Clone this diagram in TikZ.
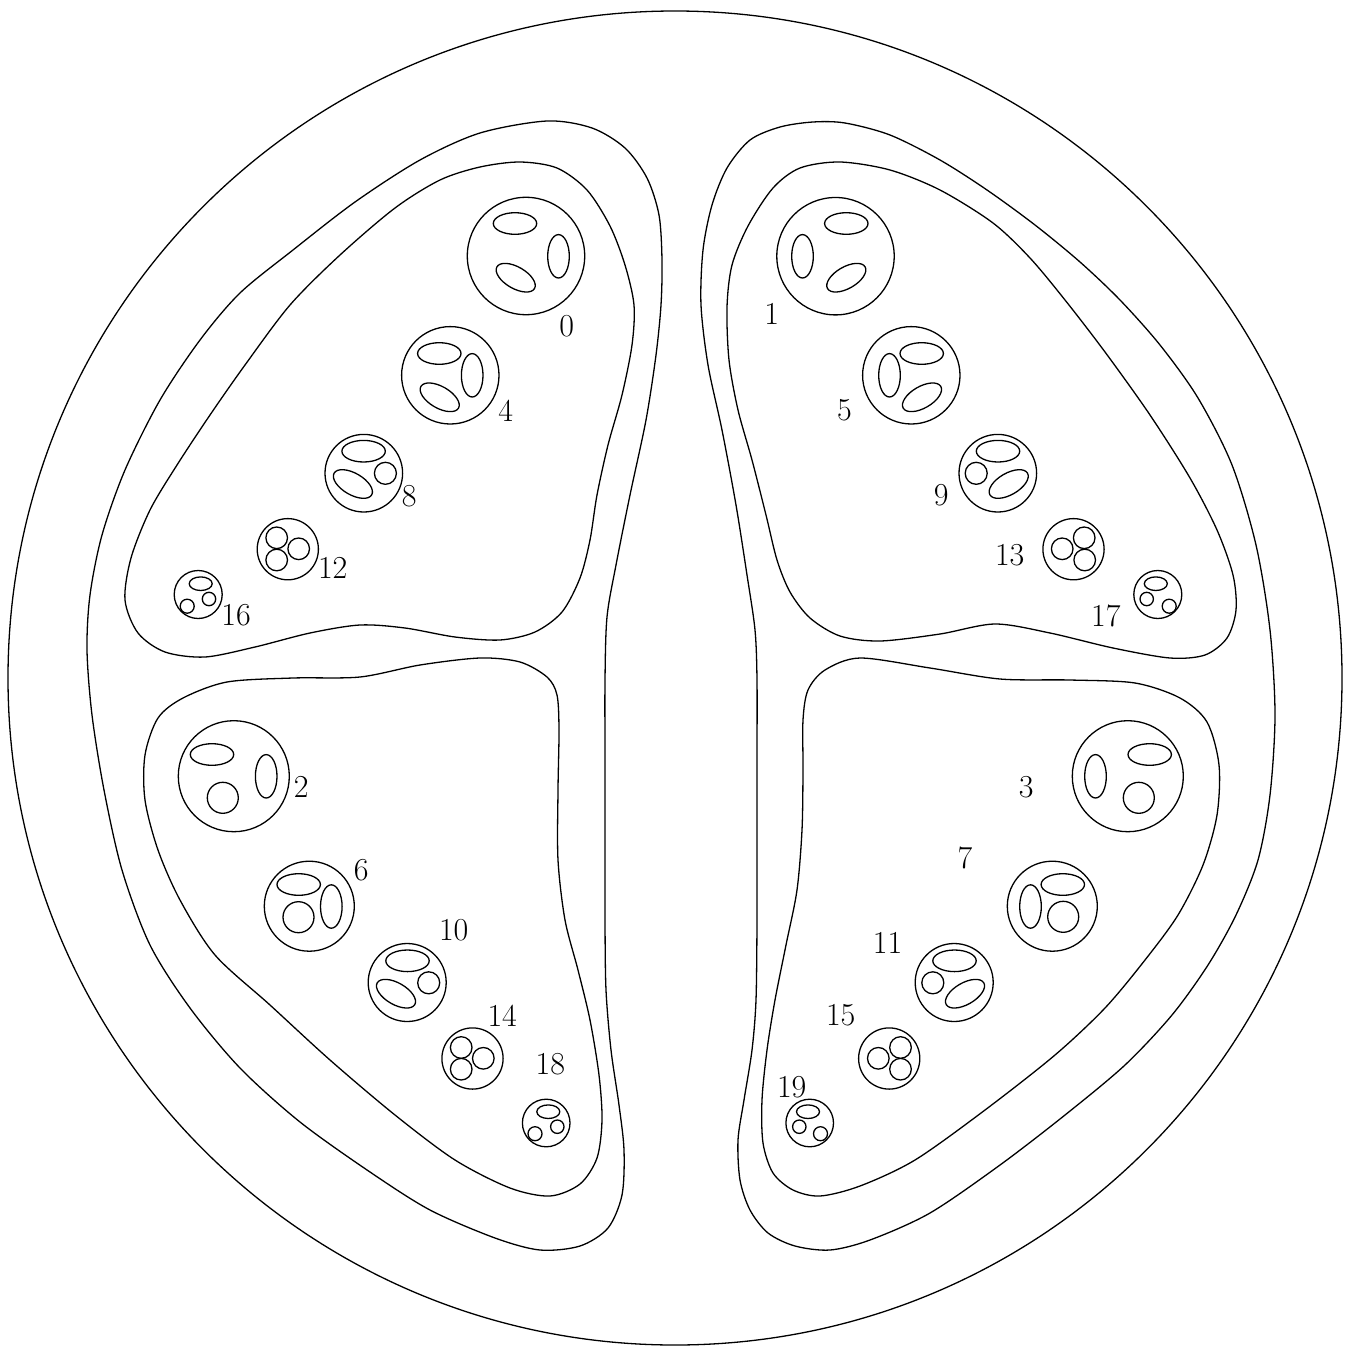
\documentclass[tikz,border=0pt]{standalone}
\begin{document}
\begin{tikzpicture}[x=1pt,y=-1pt,
  ln/.style={line width=1.3pt},
  lab/.style={font=\fontsize{32}{38}\selectfont, inner sep=0pt}]
\useasboundingbox (0,0) rectangle (1345,1346);
% outer circle
\draw[ln] (675,678) circle[radius=667pt];
% left outer blob
\draw[ln] plot[smooth cycle] coordinates {
(480,133) (547,121) (592,128) (625,148) (647,178) (659,215) (662,260) (661,305) (656,355) (646,420) (630,495) (616,565) (607,617) (605,680) (605,760) (605,840) (605,920) (606,990) (611,1050) (619,1105) (624,1150) (622,1195) (608,1228) (580,1246) (540,1250) (495,1238) (430,1210) (370,1172) (300,1122) (240,1068) (190,1008) (150,945) (122,870) (104,790) (92,715) (87,650) (90,595) (102,535) (125,470) (160,400) (200,340) (240,293) (293,250) (355,202) (420,160)};
% top-left inner blob
\draw[ln] plot[smooth cycle] coordinates {
(480,167) (520,162) (557,168) (587,190) (610,226) (625,265) (634,305) (632,345) (622,395) (608,445) (597,495) (590,540) (580,578) (562,612) (535,632) (500,640) (455,637) (405,628) (360,625) (310,633) (255,647) (205,657) (165,652) (138,633) (125,600) (131,558) (150,510) (177,465) (210,415) (245,365) (290,305) (340,255) (395,208) (440,180)};
% bottom-left inner blob
\draw[ln] plot[smooth cycle] coordinates {
(360,677) (420,665) (480,658) (520,662) (547,677) (557,695) (559,730) (558,790) (558,860) (565,920) (578,970) (590,1020) (599,1075) (602,1120) (597,1158) (580,1184) (550,1196) (510,1188) (455,1160) (395,1115) (330,1060) (270,1005) (215,955) (180,900) (158,850) (145,800) (145,755) (158,718) (183,698) (227,682) (293,678)};
% right outer blob
\draw[ln] plot[smooth cycle] coordinates {
(780,127) (813,122) (845,123) (890,135) (940,160) (987,190) (1035,225) (1080,262) (1120,300) (1160,345) (1198,398) (1232,465) (1256,545) (1270,630) (1275,715) (1270,795) (1258,860) (1236,915) (1208,965) (1172,1015) (1125,1065) (1065,1115) (1000,1165) (930,1213) (870,1240) (830,1250) (795,1246) (768,1233) (750,1210) (740,1180) (738,1140) (744,1100) (752,1050) (756,1000) (757,920) (757,840) (757,760) (757,680) (755,630) (747,575) (736,505) (722,430) (708,365) (701,305) (703,250) (712,205) (727,168) (750,140)};
% top-right inner blob
\draw[ln] plot[smooth cycle] coordinates {
(840,162) (890,170) (940,190) (993,223) (1030,258) (1065,300) (1105,352) (1150,415) (1190,478) (1217,530) (1233,575) (1236,610) (1227,638) (1205,655) (1170,658) (1113,648) (1050,633) (995,624) (940,634) (880,641) (840,636) (810,618) (790,592) (777,560) (766,515) (752,460) (738,410) (729,360) (727,307) (732,265) (748,226) (773,188) (800,168)};
% bottom-right inner blob
\draw[ln] plot[smooth cycle] coordinates {
(860,658) (930,668) (1000,679) (1070,680) (1135,683) (1180,698) (1207,722) (1219,765) (1217,815) (1203,865) (1178,915) (1145,960) (1105,1008) (1055,1055) (985,1110) (915,1160) (860,1186) (820,1196) (793,1190) (773,1173) (763,1143) (762,1100) (767,1050) (775,1000) (786,945) (797,890) (802,830) (803,770) (803,720) (808,690) (825,670)};

% ---- circle 0
\draw[ln] (526,256) circle[radius=58.7pt];
\draw[ln] (515,223.5) ellipse[x radius=21.7pt, y radius=10.8pt];
\draw[ln] (558.5,256.3) ellipse[x radius=10.8pt, y radius=21.7pt];
\draw[ln,rotate around={-30:(515.7,277.7)}] (515.7,277.7) ellipse[x radius=21.7pt, y radius=10.8pt];
% ---- circle 1
\draw[ln] (835.5,256.2) circle[radius=58.7pt];
\draw[ln] (846.3,223.5) ellipse[x radius=21.7pt, y radius=10.8pt];
\draw[ln] (802.5,256.3) ellipse[x radius=10.8pt, y radius=21.7pt];
\draw[ln,rotate around={30:(846.3,277.7)}] (846.3,277.7) ellipse[x radius=21.7pt, y radius=10.8pt];
% ---- circle 4
\draw[ln] (450.3,375.3) circle[radius=48.7pt];
\draw[ln] (439.3,353.5) ellipse[x radius=21.7pt, y radius=10.8pt];
\draw[ln] (472.2,375.3) ellipse[x radius=10.8pt, y radius=21.7pt];
\draw[ln,rotate around={-30:(439.7,397.3)}] (439.7,397.3) ellipse[x radius=21.7pt, y radius=10.8pt];
% ---- circle 5
\draw[ln] (911.3,375.3) circle[radius=48.7pt];
\draw[ln] (921.7,353.5) ellipse[x radius=21.7pt, y radius=10.8pt];
\draw[ln] (889.5,375.3) ellipse[x radius=10.8pt, y radius=21.7pt];
\draw[ln,rotate around={30:(922,397.3)}] (922,397.3) ellipse[x radius=21.7pt, y radius=10.8pt];
% ---- circle 8
\draw[ln] (363.8,473.2) circle[radius=38.8pt];
\draw[ln] (363.6,451.2) ellipse[x radius=21.7pt, y radius=10.8pt];
\draw[ln] (385.4,473.3) circle[radius=11pt];
\draw[ln,rotate around={-30:(352.9,484)}] (352.9,484) ellipse[x radius=21.7pt, y radius=10.8pt];
% ---- circle 9
\draw[ln] (997.8,473.2) circle[radius=38.8pt];
\draw[ln] (998,451.2) ellipse[x radius=21.7pt, y radius=10.8pt];
\draw[ln] (976.2,473.3) circle[radius=11pt];
\draw[ln,rotate around={30:(1008.7,484)}] (1008.7,484) ellipse[x radius=21.7pt, y radius=10.8pt];
% ---- circle 12
\draw[ln] (287.8,549.2) circle[radius=30.6pt];
\draw[ln] (276.7,537.8) circle[radius=10.8pt];
\draw[ln] (276.7,560) circle[radius=10.8pt];
\draw[ln] (298.7,548.8) circle[radius=10.8pt];
% ---- circle 13
\draw[ln] (1073.5,549.2) circle[radius=30.6pt];
\draw[ln] (1062.2,548.8) circle[radius=10.8pt];
\draw[ln] (1084.2,537.8) circle[radius=10.8pt];
\draw[ln] (1084.7,560) circle[radius=10.8pt];
% ---- circle 16
\draw[ln] (198.2,594.5) circle[radius=24pt];
\draw[ln] (200.7,583.7) ellipse[x radius=11.5pt, y radius=6.8pt];
\draw[ln] (187.2,606.2) circle[radius=7pt];
\draw[ln] (209,599) circle[radius=6.7pt];
% ---- circle 17
\draw[ln] (1157.8,594.5) circle[radius=24pt];
\draw[ln] (1155.8,583.7) ellipse[x radius=11.5pt, y radius=6.8pt];
\draw[ln] (1146.7,599) circle[radius=6.7pt];
\draw[ln] (1169.2,606.2) circle[radius=7pt];
% ---- circle 2
\draw[ln] (233.8,776.2) circle[radius=55.5pt];
\draw[ln] (212,754.5) ellipse[x radius=21.7pt, y radius=10.8pt];
\draw[ln] (266.2,776.3) ellipse[x radius=10.8pt, y radius=21.7pt];
\draw[ln] (222.8,797.8) circle[radius=15.5pt];
% ---- circle 3
\draw[ln] (1127.8,776.2) circle[radius=55.5pt];
\draw[ln] (1149.7,754.5) ellipse[x radius=21.7pt, y radius=10.8pt];
\draw[ln] (1095.5,776.3) ellipse[x radius=10.8pt, y radius=21.7pt];
\draw[ln] (1138.8,797.8) circle[radius=15.5pt];
% ---- circle 6
\draw[ln] (309.3,906.2) circle[radius=45pt];
\draw[ln] (298.7,884.5) ellipse[x radius=21.7pt, y radius=10.8pt];
\draw[ln] (331.3,906.5) ellipse[x radius=10.8pt, y radius=21.7pt];
\draw[ln] (298.5,917.2) circle[radius=15.5pt];
% ---- circle 7
\draw[ln] (1052.3,906.2) circle[radius=45pt];
\draw[ln] (1062.8,884.5) ellipse[x radius=21.7pt, y radius=10.8pt];
\draw[ln] (1030.5,906.5) ellipse[x radius=10.8pt, y radius=21.7pt];
\draw[ln] (1063.2,916.8) circle[radius=15.5pt];
% ---- circle 10
\draw[ln] (407.2,982.5) circle[radius=39pt];
\draw[ln] (407.5,960.8) ellipse[x radius=21.7pt, y radius=10.8pt];
\draw[ln] (428.7,982.8) circle[radius=11pt];
\draw[ln,rotate around={-30:(396,993.7)}] (396,993.7) ellipse[x radius=21.7pt, y radius=10.8pt];
% ---- circle 11
\draw[ln] (954.2,982.5) circle[radius=39pt];
\draw[ln] (954.5,960.8) ellipse[x radius=21.7pt, y radius=10.8pt];
\draw[ln] (932.8,982.8) circle[radius=11pt];
\draw[ln,rotate around={30:(965,993.7)}] (965,993.7) ellipse[x radius=21.7pt, y radius=10.8pt];
% ---- circle 14
\draw[ln] (472.5,1058.5) circle[radius=30.6pt];
\draw[ln] (461.2,1047.5) circle[radius=10.8pt];
\draw[ln] (461.2,1069.2) circle[radius=10.8pt];
\draw[ln] (483.3,1058.3) circle[radius=10.8pt];
% ---- circle 15
\draw[ln] (889.2,1058.5) circle[radius=30.6pt];
\draw[ln] (878.3,1058.3) circle[radius=10.8pt];
\draw[ln] (900.5,1047.5) circle[radius=10.8pt];
\draw[ln] (900.5,1069.2) circle[radius=10.8pt];
% ---- circle 18
\draw[ln] (546.2,1123) circle[radius=23.8pt];
\draw[ln] (548.3,1111.7) ellipse[x radius=11.5pt, y radius=6.8pt];
\draw[ln] (535,1133.7) circle[radius=7pt];
\draw[ln] (557.3,1126.7) circle[radius=6.7pt];
% ---- circle 19
\draw[ln] (809.7,1123) circle[radius=23.8pt];
\draw[ln] (808,1111.7) ellipse[x radius=11.5pt, y radius=6.8pt];
\draw[ln] (799.3,1126.7) circle[radius=6.7pt];
\draw[ln] (820.5,1133.7) circle[radius=7pt];

% labels
\node[lab] (l0) at (566.7,326.3) {0};
\node[lab] (l1) at (771.7,313.8) {1};
\node[lab] (l2) at (301.2,786.7) {2};
\node[lab] (l3) at (1026.3,786.7) {3};
\node[lab] (l4) at (505.7,411) {4};
\node[lab] (l5) at (844.5,410.5) {5};
\node[lab] (l6) at (361.2,870.5) {6};
\node[lab] (l7) at (965,858) {7};
\node[lab] (l8) at (409.3,496.3) {8};
\node[lab] (l9) at (941.2,495.5) {9};
\node[lab] (l10) at (453.7,929.7) {10};
\node[lab] (l11) at (887.5,942.8) {11};
\node[lab] (l12) at (332.7,567.8) {12};
\node[lab] (l13) at (1009.7,555.5) {13};
\node[lab] (l14) at (502.2,1015.5) {14};
\node[lab] (l15) at (840.7,1015.2) {15};
\node[lab] (l16) at (236,615.2) {16};
\node[lab] (l17) at (1105.8,615.8) {17};
\node[lab] (l18) at (550.3,1063.8) {18};
\node[lab] (l19) at (791.7,1087.5) {19};
\end{tikzpicture}
\end{document}
